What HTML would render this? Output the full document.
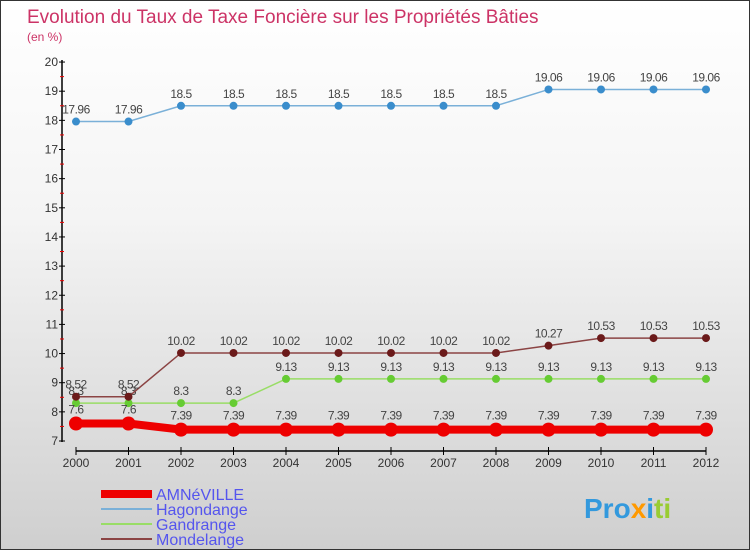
<!DOCTYPE html>
<html><head><meta charset="utf-8"><style>
body{margin:0;}
#wrap{width:750px;height:550px;position:relative;overflow:hidden;background:linear-gradient(#ffffff 0%,#f4f4f4 40%,#cfcfcf 100%);box-sizing:border-box;border:1px solid #333;font-family:"Liberation Sans",sans-serif;}
</style></head><body>
<div id="wrap">
<svg id="svg" width="750" height="550" style="position:absolute;left:0;top:0">
<text x="26" y="22" font-size="19" fill="#cc3366">Evolution du Taux de Taxe Foncière sur les Propriétés Bâties</text>
<text x="26" y="40" font-size="12" fill="#cc3366">(en %)</text>
<g id="axes"></g>
<g id="series"></g>
<g id="legend"></g>
<text x="583" y="517" font-size="28" font-weight="bold" fill="#3399dd">Pro<tspan fill="#ff9900">x</tspan><tspan fill="#3399dd">i</tspan><tspan fill="#99cc33">ti</tspan></text>
</svg>
</div>
<script>
const years=[2000,2001,2002,2003,2004,2005,2006,2007,2008,2009,2010,2011,2012];
const amneville=[7.6,7.6,7.39,7.39,7.39,7.39,7.39,7.39,7.39,7.39,7.39,7.39,7.39];
const hagondange=[17.96,17.96,18.5,18.5,18.5,18.5,18.5,18.5,18.5,19.06,19.06,19.06,19.06];
const gandrange=[8.3,8.3,8.3,8.3,9.13,9.13,9.13,9.13,9.13,9.13,9.13,9.13,9.13];
const mondelange=[8.52,8.52,10.02,10.02,10.02,10.02,10.02,10.02,10.02,10.27,10.53,10.53,10.53];
const yTicks=[7,8,9,10,11,12,13,14,15,16,17,18,19,20];
const NS="http://www.w3.org/2000/svg";
const x=i=>75+i*52.5;
const y=v=>440-(v-7)*29.15;
function mk(tag,attrs,parent){const e=document.createElementNS(NS,tag);for(const k in attrs)e.setAttribute(k,attrs[k]);parent.appendChild(e);return e;}
const axes=document.getElementById('axes');
let a=mk('line',{x1:61,y1:59,x2:61,y2:441,stroke:'#000','stroke-width':1.5},axes);


yTicks.forEach(t=>{
  let l=mk('line',{x1:58,x2:64,y1:y(t),y2:y(t),stroke:'#000'},axes);
  
  
  let tx=mk('text',{x:57,y:y(t)+4,'text-anchor':'end','font-size':12,fill:'#333'},axes);
  tx.textContent=t;
  
  
  if(t<20){let m=mk('line',{x1:59,x2:63,y1:y(t+0.5),y2:y(t+0.5),stroke:'#e00'},axes);
  
  }
});
let xa=mk('line',{x1:75,y1:450,x2:705,y2:450,stroke:'#000','stroke-width':1.5},axes);


years.forEach((yr,i)=>{
  let l=mk('line',{x1:x(i),x2:x(i),y1:446,y2:454,stroke:'#000'},axes);
  
  
  let tx=mk('text',{x:x(i),y:466,'text-anchor':'middle','font-size':12,fill:'#333'},axes);
  tx.textContent=yr;
  
  
});
const ser=document.getElementById('series');
const defs=[
 {name:'hagondange',data:hagondange,color:'#3a8dcc',line:'#7ab0d8',w:1.5,r:4},
 {name:'gandrange',data:gandrange,color:'#66cc33',line:'#99dd66',w:1.5,r:4},
 {name:'mondelange',data:mondelange,color:'#6b1a1a',line:'#8b4444',w:1.5,r:4},
 {name:'amneville',data:amneville,color:'#ee0000',line:'#ee0000',w:8,r:7}
];
defs.forEach(s=>{
  const g=mk('g',{},ser);
  
  
  let p=mk('polyline',{points:s.data.map((v,i)=>x(i)+','+y(v)).join(' '),fill:'none',stroke:s.line,'stroke-width':s.w},g);
  
  
  s.data.forEach((v,i)=>{
    let c=mk('circle',{cx:x(i),cy:y(v),r:s.r,fill:s.color},g);
    
    
    let t=mk('text',{x:x(i),y:y(v)-(s.name==='amneville'?10:8),'text-anchor':'middle','font-size':12,fill:'#444','letter-spacing':'-0.5'},g);
    t.textContent=v;
    
    
  });
});
const leg=document.getElementById('legend');
const items=[['AMNéVILLE','#ee0000',8],['Hagondange','#7ab0d8',2],['Gandrange','#99dd66',2],['Mondelange','#8b4444',2]];
items.forEach((it,i)=>{
  const yy=493+i*15;
  let l=mk('line',{x1:100,x2:151,y1:yy,y2:yy,stroke:it[1],'stroke-width':it[2]},leg);
  
  
  let t=mk('text',{x:155,y:yy+6,'font-size':16,fill:'#5555ee'},leg);
  t.textContent=it[0];
  
  
});
</script>
</body></html>
